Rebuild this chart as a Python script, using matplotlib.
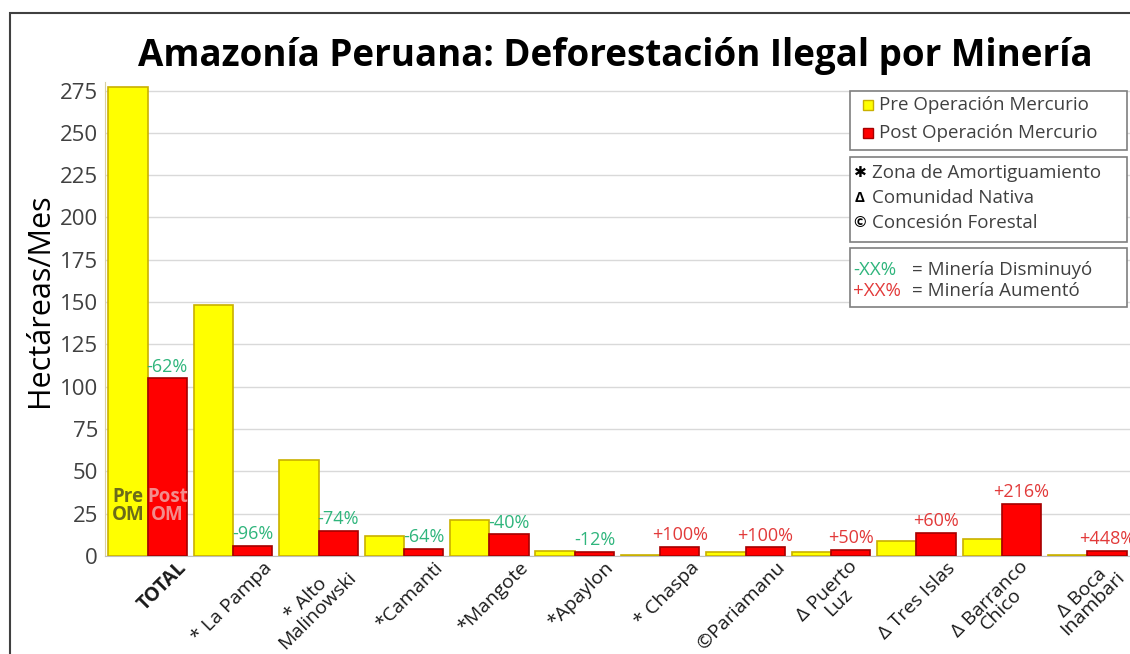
import numpy as np
import matplotlib
matplotlib.use("Agg")
import matplotlib.pyplot as plt
import matplotlib.transforms as mtransforms
from matplotlib.patches import Rectangle

plt.rcParams['font.family'] = ['Open Sans', 'DejaVu Sans']

# datos (hectáreas/mes)
zonas = ["TOTAL", "* La Pampa", "* Alto\nMalinowski", "*Camanti", "*Mangote", "*Apaylon",
         "* Chaspa", "©Pariamanu", "\u0394 Puerto\nLuz", "\u0394 Tres Islas",
         "\u0394 Barranco\nChico", "\u0394 Boca\nInambari"]
pre_om = [277, 148, 57, 12, 21.3, 3, 0.6, 2.6, 2.4, 8.6, 9.8, 0.55]
post_om = [105, 6, 15, 4.3, 12.8, 2.6, 5.3, 5.2, 3.6, 13.8, 31, 3.0]
cambios = ["-62%", "-96%", "-74%", "-64%", "-40%", "-12%",
           "+100%", "+100%", "+50%", "+60%", "+216%", "+448%"]

verde = "#2fb57c"
rojo = "#e23a3a"
gris = "#404040"

fig = plt.figure(figsize=(11.3, 6.54), dpi=100)
ax = fig.add_axes([105 / 1130, 98 / 654, 1 - 105 / 1130, 0.7247])

x = np.arange(len(zonas))
w = 0.46
ax.bar(x - w / 2, pre_om, w, color="#ffff00", edgecolor="#c9b000", linewidth=1.2, zorder=3)
ax.bar(x + w / 2, post_om, w, color="#ff0000", edgecolor="#a50000", linewidth=1.2, zorder=3)

for i in range(len(zonas)):
    col = verde if cambios[i].startswith("-") else rojo
    ax.text(x[i] + w / 2, post_om[i] + 1.5, cambios[i], ha="center", va="bottom",
            fontsize=13, color=col, zorder=4)

# etiquetas dentro de las barras del total
ax.text(x[0] - w / 2, 29.5, "Pre\nOM", ha="center", va="center", fontsize=13.5,
        fontweight="bold", color="#6b6b1a", linespacing=0.9, zorder=4)
ax.text(x[0] + w / 2, 29.5, "Post\nOM", ha="center", va="center", fontsize=13.5,
        fontweight="bold", color="#f28c8c", linespacing=0.9, zorder=4)

ax.set_xlim(-0.5, 11.5)
ax.set_ylim(0, 280)
ax.set_yticks(np.arange(0, 276, 25))
ax.yaxis.grid(True, color="#d9d9d9", linewidth=1, zorder=0)
ax.tick_params(axis="y", length=0, labelsize=16, labelcolor=gris, pad=5)
ax.tick_params(axis="x", length=0, pad=0)
ax.set_xticks(x)
ax.set_xticklabels(zonas, rotation=45, ha="right", va="center", rotation_mode="anchor",
                   fontsize=14, color="#1a1a1a", multialignment="center", linespacing=0.85)
for lab in ax.get_xticklabels():
    if "\n" in lab.get_text():
        desplaza = mtransforms.ScaledTranslation(0.29, -0.13, fig.dpi_scale_trans)
    else:
        desplaza = mtransforms.ScaledTranslation(0.36, -0.09, fig.dpi_scale_trans)
    lab.set_transform(lab.get_transform() + desplaza)
ax.get_xticklabels()[0].set_fontweight("bold")
for s in ["top", "right"]:
    ax.spines[s].set_visible(False)
ax.spines["left"].set_color("#d9cfa0")
ax.spines["bottom"].set_color("#bfbfbf")

fig.text(615 / 1130, 1 - 56 / 654, "Amazonía Peruana: Deforestación Ilegal por Minería",
         ha="center", va="center", fontsize=26.5, fontweight="bold", color="black")
fig.text(40 / 1130, 1 - 300 / 654, "Hectáreas/Mes", rotation=90, ha="center",
         va="center", fontsize=22, color="black")

# marco exterior
fig.patches.append(Rectangle((10 / 1130, -0.1), 1.2, 1.1 - 13 / 654, transform=fig.transFigure,
                             fill=False, edgecolor="#404040", linewidth=1.5))


def px(xp, yp):
    return xp / 1130, 1 - yp / 654


def caja(x0, y0, x1, y1):
    fig.patches.append(Rectangle(px(x0, y1), (x1 - x0) / 1130, (y1 - y0) / 654,
                                 transform=fig.transFigure, fill=True, facecolor="white",
                                 edgecolor="#7f7f7f", linewidth=1.2, zorder=5))


caja(850, 91, 1127, 150)
caja(850, 157, 1127, 242)
caja(850, 248, 1127, 307)

for yp, fc, ec, txt in [(105, "#ffff00", "#c9b000", "Pre Operación Mercurio"),
                        (133, "#ff0000", "#a50000", "Post Operación Mercurio")]:
    fig.patches.append(Rectangle(px(863, yp + 5), 10 / 1130, 10 / 654, transform=fig.transFigure,
                                 facecolor=fc, edgecolor=ec, linewidth=1, zorder=6))
    fig.text(*px(879, yp), txt, ha="left", va="center", fontsize=13.5, color=gris, zorder=6)

for yp, sym, txt in [(173, "\u2731", "Zona de Amortiguamiento"),
                     (198, "\u0394", "Comunidad Nativa"),
                     (223, "©", "Concesión Forestal")]:
    fig.text(*px(860, yp), sym, ha="center", va="center", fontsize=11, fontweight="bold",
             color="black", zorder=6)
    fig.text(*px(872, yp), txt, ha="left", va="center", fontsize=13.5, color=gris, zorder=6)

fig.text(*px(853, 270), "-XX%", ha="left", va="center", fontsize=13.5, color=verde, zorder=6)
fig.text(*px(912, 270), "= Minería Disminuyó", ha="left", va="center", fontsize=13.5,
         color=gris, zorder=6)
fig.text(*px(853, 291), "+XX%", ha="left", va="center", fontsize=13.5, color=rojo, zorder=6)
fig.text(*px(912, 291), "= Minería Aumentó", ha="left", va="center", fontsize=13.5,
         color=gris, zorder=6)

fig.savefig("out.png", dpi=100)
